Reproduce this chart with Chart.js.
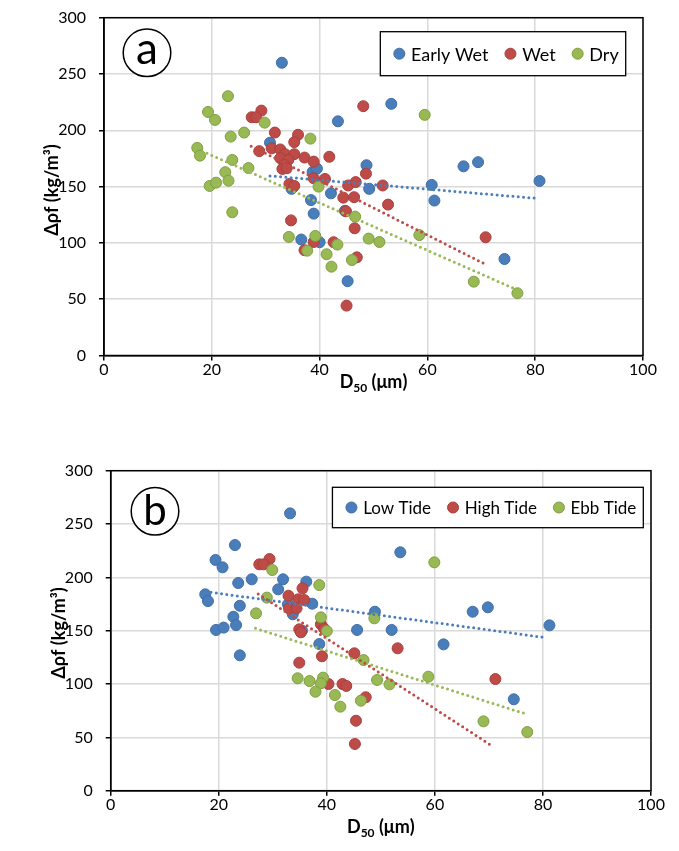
<!DOCTYPE html>
<html>
<head>
<meta charset="utf-8">
<script src="https://cdn.jsdelivr.net/npm/chart.js@4.4.1/dist/chart.umd.min.js"></script>
<style>
  html, body { margin: 0; padding: 0; background: #fff; }
  .box { position: absolute; left: 0; width: 679px; }
  #boxA { top: 0; height: 425px; }
  #boxB { top: 425px; height: 426px; }
</style>
</head>
<body>
<div class="box" id="boxA"><canvas id="chartA"></canvas></div>
<div class="box" id="boxB"><canvas id="chartB"></canvas></div>
<script>
// tick labels
const xTicks = [0, 20, 40, 60, 80, 100];
const yTicks = [0, 50, 100, 150, 200, 250, 300];

// (a) by season
const earlyWetX = [33.0, 43.4, 53.3, 30.8, 38.7, 39.5, 48.7, 49.2, 60.8, 66.7, 69.4, 80.8, 61.3, 74.3, 42.1, 34.8, 38.4, 38.9, 36.6, 40.0, 45.2, 44.7];
const earlyWetY = [260, 208, 223.5, 189, 163, 166, 169, 148, 151.5, 168, 171.7, 155, 137.6, 85.7, 144, 148, 138, 126, 103, 100.6, 66, 128.5];
const wetX = [48.1, 29.2, 27.4, 28.2, 31.7, 36.0, 35.3, 31.1, 28.8, 32.7, 33.6, 35.3, 32.7, 34.2, 33.5, 33.1, 33.9, 37.2, 38.9, 41.8, 38.9, 41.0, 48.6, 45.3, 46.7, 34.4, 35.3, 51.7, 52.7, 44.4, 46.4, 44.9, 46.5, 34.7, 38.9, 37.2, 42.6, 46.9, 45.0, 70.8];
const wetY = [221.4, 217.5, 211.6, 211.6, 198, 196, 189.5, 184, 181.5, 183, 178.8, 178.8, 175.2, 173.7, 169.3, 165.7, 166.3, 175.8, 172.2, 176.5, 157.4, 156.8, 161.5, 151, 154, 152.4, 150.6, 151, 134, 140.2, 140.6, 128.1, 113, 120, 100.8, 93.5, 100.6, 87.2, 44.3, 105];
const dryX = [23.0, 19.3, 20.6, 29.8, 26.0, 23.5, 38.3, 17.3, 17.8, 23.8, 26.8, 22.5, 23.1, 19.6, 20.8, 39.8, 23.8, 34.3, 39.2, 37.7, 43.3, 41.3, 42.2, 46.0, 46.6, 49.1, 51.1, 59.5, 58.5, 68.6, 76.7];
const dryY = [230.3, 216.3, 209.2, 206.8, 198, 194.4, 192.6, 184.4, 177.5, 173.7, 166.5, 162.8, 155.3, 150.6, 153.5, 150, 127.2, 105.3, 106.2, 93.1, 98.5, 89.9, 78.9, 84.8, 123.3, 103.8, 100.8, 213.7, 107, 65.6, 55.3];
// linear trend ends
const earlyWetTrendX = [30.8, 80.0];
const earlyWetTrendY = [159.5, 139.7];
const wetTrendX = [27.3, 70.4];
const wetTrendY = [185.9, 81.9];
const dryTrendX = [19.1, 76.0];
const dryTrendY = [179.6, 59.7];

// (b) by tide
const lowTideX = [33.2, 23.0, 19.4, 20.7, 23.6, 26.1, 31.9, 36.2, 31.0, 17.5, 18.0, 23.9, 37.3, 32.8, 33.7, 22.7, 19.5, 20.9, 23.2, 23.9, 48.9, 45.6, 38.6, 35.4, 53.6, 67.0, 69.8, 81.2, 52.0, 61.6, 74.6];
const lowTideY = [260, 230.3, 216.3, 209.4, 194.7, 198.2, 198.2, 196, 188.8, 184.1, 177.8, 173.4, 175.3, 174.7, 165.4, 163.1, 150.7, 152.9, 155.3, 126.9, 167.8, 150.7, 137.5, 150, 223.5, 167.8, 171.9, 155, 150.7, 137.2, 85.7];
const highTideX = [29.4, 27.5, 28.3, 35.5, 32.9, 34.7, 35.8, 33.0, 34.4, 34.9, 35.2, 38.9, 39.5, 39.1, 45.1, 34.9, 40.3, 42.9, 43.6, 47.2, 45.4, 45.2, 53.1, 71.2];
const highTideY = [217.2, 212.2, 212.2, 189.7, 182.8, 179.4, 178.8, 171, 171, 151.3, 148.5, 156, 152, 126, 128.8, 120, 100, 100, 98.2, 87.6, 65.6, 43.8, 133.5, 104.7];
const ebbTideX = [29.9, 38.6, 28.9, 26.9, 38.9, 48.8, 40.0, 46.8, 34.6, 36.8, 39.3, 38.9, 37.9, 41.5, 42.5, 46.3, 49.3, 51.6, 59.9, 58.8, 69.0, 77.1];
const ebbTideY = [206.9, 192.8, 181, 166.3, 162.5, 161.6, 149.7, 122.5, 105.4, 102.8, 106, 100.7, 92.8, 89.7, 78.8, 84.4, 103.8, 99.7, 214.1, 106.9, 65, 55];
const lowTideTrendX = [17.6, 80.7];
const lowTideTrendY = [186.6, 143.4];
const highTideTrendX = [27.3, 70.7];
const highTideTrendY = [184.4, 41.6];
const ebbTideTrendX = [26.8, 77.1];
const ebbTideTrendY = [152.2, 71.6];

const BLUE = '#4A7EBB', BLUE_EDGE = '#3E6DA8';
const RED = '#BE4B48', RED_EDGE = '#A9403D';
const GREEN = '#98B954', GREEN_EDGE = '#7F9E42';
const FONT = "Lato, 'DejaVu Sans', sans-serif";

const pts = (xs, ys) => xs.map((x, i) => ({ x: x, y: ys[i] }));

function dots(label, xs, ys, fill, edge, order) {
  return {
    label: label, data: pts(xs, ys), order: order,
    backgroundColor: fill, borderColor: edge,
    pointRadius: 5.5, pointHoverRadius: 5.5, pointBorderWidth: 1
  };
}
function trend(xs, ys, color) {
  return {
    isTrend: true, data: pts(xs, ys), order: 0,
    showLine: true, pointRadius: 0, pointHoverRadius: 0,
    borderColor: color, borderWidth: 3, borderDash: [0, 5.3], borderCapStyle: 'round'
  };
}

// frame, letter badge, legend box, axis titles
function decor(d) {
  return {
    id: 'decor',
    afterDraw(chart) {
      const ctx = chart.ctx, a = chart.chartArea;
      ctx.save();
      ctx.strokeStyle = '#000';
      ctx.lineWidth = 1.5;
      ctx.strokeRect(a.left, a.top, a.right - a.left, a.bottom - a.top);

      // letter in circle
      ctx.beginPath();
      ctx.arc(d.badgeX, d.badgeY, 23.8, 0, Math.PI * 2);
      ctx.fillStyle = '#fff';
      ctx.fill();
      ctx.stroke();
      ctx.fillStyle = '#000';
      ctx.font = d.badgeFont + 'px ' + FONT;
      ctx.textAlign = 'center';
      ctx.textBaseline = 'middle';
      ctx.fillText(d.badge, d.badgeX, d.badgeY + d.badgeDy);

      // legend
      const items = chart.data.datasets.filter(ds => !ds.isTrend);
      ctx.font = d.legendFont + 'px ' + FONT;
      let w = 19;
      const widths = items.map(it => ctx.measureText(it.label).width);
      widths.forEach((tw, i) => { w += 11.7 + tw + (i < items.length - 1 ? 22 : 7); });
      const left = d.legendRight - w;
      ctx.fillStyle = '#fff';
      ctx.fillRect(left, d.legendTop, w, d.legendH);
      ctx.strokeStyle = '#000';
      ctx.lineWidth = 1.3;
      ctx.strokeRect(left, d.legendTop, w, d.legendH);
      const cy = d.legendTop + d.legendH / 2;
      let x = left + 19;
      items.forEach((it, i) => {
        ctx.beginPath();
        ctx.arc(x, cy, 5.5, 0, Math.PI * 2);
        ctx.fillStyle = it.backgroundColor;
        ctx.fill();
        ctx.lineWidth = 1;
        ctx.strokeStyle = it.borderColor;
        ctx.stroke();
        ctx.fillStyle = '#000';
        ctx.textAlign = 'left';
        ctx.fillText(it.label, x + 11.7, cy + 1);
        x += 11.7 + widths[i] + 22;
      });

      // x title: D50 (um)
      ctx.fillStyle = '#000';
      ctx.textBaseline = 'alphabetic';
      const big = 'bold 18px ' + FONT, small = 'bold 12px ' + FONT;
      ctx.font = big; const w1 = ctx.measureText('D').width; const w3 = ctx.measureText(' (\u03bcm)').width;
      ctx.font = small; const w2 = ctx.measureText('50').width;
      let tx = (a.left + a.right) / 2 - (w1 + w2 + w3) / 2;
      ctx.textAlign = 'left';
      ctx.font = big; ctx.fillText('D', tx, d.xTitleY);
      ctx.font = small; ctx.fillText('50', tx + w1, d.xTitleY + 4);
      ctx.font = big; ctx.fillText(' (\u03bcm)', tx + w1 + w2, d.xTitleY);

      // y title
      ctx.translate(d.yTitleX, d.yTitleY);
      ctx.rotate(-Math.PI / 2);
      ctx.textAlign = 'center';
      ctx.textBaseline = 'middle';
      ctx.font = big;
      ctx.fillText('\u0394\u03c1f (kg/m\u00b3)', 0, 0);
      ctx.restore();
    }
  };
}

function makeChart(id, datasets, box, d) {
  return new Chart(document.getElementById(id), {
    type: 'scatter',
    data: { datasets: datasets },
    options: {
      responsive: true, maintainAspectRatio: false, animation: false,
      layout: { padding: { top: box.top, right: box.right, left: 0, bottom: 0 } },
      plugins: { legend: { display: false }, tooltip: { enabled: false } },
      scales: {
        x: {
          type: 'linear', min: 0, max: 100,
          afterFit: s => { s.height = box.xH; s.paddingLeft = 0; s.paddingRight = 0; },
          afterBuildTicks: s => { s.ticks = xTicks.map(v => ({ value: v })); },
          grid: { color: '#D9D9D9', lineWidth: 1.5, tickLength: 5, tickColor: '#000', tickWidth: 1.5 },
          border: { display: true, color: '#000', width: 1.5 },
          ticks: { color: '#000', font: { family: FONT, size: 16 }, padding: 0, maxRotation: 0 }
        },
        y: {
          type: 'linear', min: 0, max: 300,
          // fixed width, and keep label overflow from pushing the plot down
          afterFit: s => { s.width = box.yW; s.paddingTop = 0; s.paddingBottom = 0; },
          afterBuildTicks: s => { s.ticks = yTicks.map(v => ({ value: v })); },
          grid: { color: '#D9D9D9', lineWidth: 1.5, tickLength: 5, tickColor: '#000', tickWidth: 1.5 },
          border: { display: true, color: '#000', width: 1.5 },
          ticks: { color: '#000', font: { family: FONT, size: 16 }, padding: 13 }
        }
      }
    },
    plugins: [decor(d)]
  });
}

makeChart('chartA', [
  trend(earlyWetTrendX, earlyWetTrendY, BLUE),
  trend(wetTrendX, wetTrendY, RED),
  trend(dryTrendX, dryTrendY, GREEN),
  dots('Early Wet', earlyWetX, earlyWetY, BLUE, BLUE_EDGE, 3),
  dots('Wet', wetX, wetY, RED, RED_EDGE, 2),
  dots('Dry', dryX, dryY, GREEN, GREEN_EDGE, 1)
], { top: 17.7, right: 36, yW: 104, xH: 69.5 },
{ badge: 'a', badgeX: 147, badgeY: 52.8, badgeFont: 44, badgeDy: -3,
  legendRight: 625.7, legendTop: 31.7, legendH: 44, legendFont: 18,
  xTitleY: 388, yTitleX: 52, yTitleY: 190 });

makeChart('chartB', [
  trend(lowTideTrendX, lowTideTrendY, BLUE),
  trend(highTideTrendX, highTideTrendY, RED),
  trend(ebbTideTrendX, ebbTideTrendY, GREEN),
  dots('Low Tide', lowTideX, lowTideY, BLUE, BLUE_EDGE, 3),
  dots('High Tide', highTideX, highTideY, RED, RED_EDGE, 2),
  dots('Ebb Tide', ebbTideX, ebbTideY, GREEN, GREEN_EDGE, 1)
], { top: 45.7, right: 28, yW: 110.7, xH: 60.3 },
{ badge: 'b', badgeX: 155, badgeY: 86.3, badgeFont: 42, badgeDy: 0,
  legendRight: 643.3, legendTop: 62.3, legendH: 40.4, legendFont: 17,
  xTitleY: 408, yTitleX: 59, yTitleY: 208 });
</script>
</body>
</html>
